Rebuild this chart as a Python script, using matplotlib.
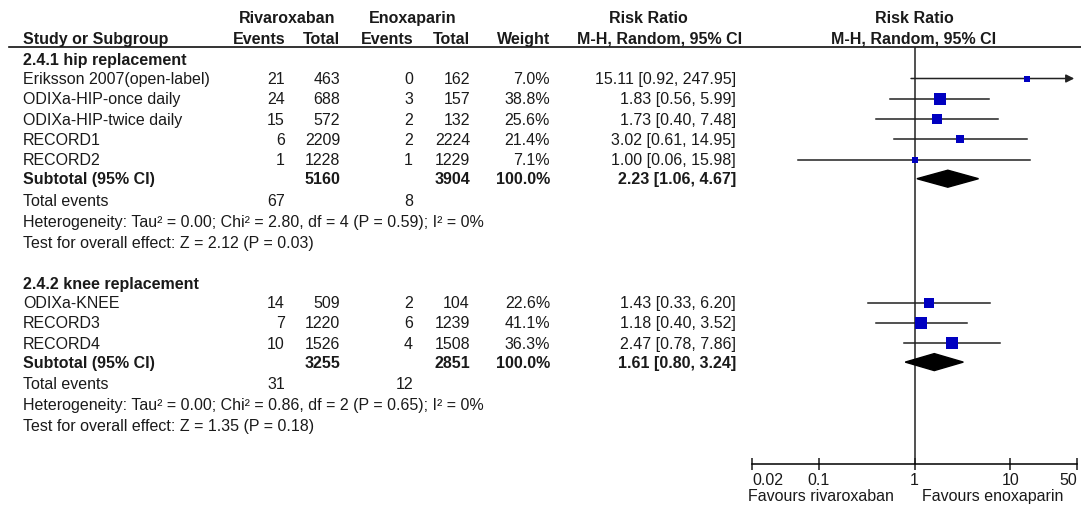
import numpy as np
import matplotlib
matplotlib.use("Agg")
import matplotlib.pyplot as plt
from matplotlib.patches import Polygon

plt.rcParams['font.family'] = ['Liberation Sans', 'DejaVu Sans']

# ---------------- data ----------------
hip_names = ["Eriksson 2007(open-label)", "ODIXa-HIP-once daily", "ODIXa-HIP-twice daily",
             "RECORD1", "RECORD2"]
hip_riva_events = [21, 24, 15, 6, 1]
hip_riva_total = [463, 688, 572, 2209, 1228]
hip_enox_events = [0, 3, 2, 2, 1]
hip_enox_total = [162, 157, 132, 2224, 1229]
hip_weight = [7.0, 38.8, 25.6, 21.4, 7.1]
hip_rr = [15.11, 1.83, 1.73, 3.02, 1.00]
hip_lo = [0.92, 0.56, 0.40, 0.61, 0.06]
hip_hi = [247.95, 5.99, 7.48, 14.95, 15.98]
hip_sub = (2.23, 1.06, 4.67)
hip_het = "Heterogeneity: Tau² = 0.00; Chi² = 2.80, df = 4 (P = 0.59); I² = 0%"
hip_test = "Test for overall effect: Z = 2.12 (P = 0.03)"

knee_names = ["ODIXa-KNEE", "RECORD3", "RECORD4"]
knee_riva_events = [14, 7, 10]
knee_riva_total = [509, 1220, 1526]
knee_enox_events = [2, 6, 4]
knee_enox_total = [104, 1239, 1508]
knee_weight = [22.6, 41.1, 36.3]
knee_rr = [1.43, 1.18, 2.47]
knee_lo = [0.33, 0.40, 0.78]
knee_hi = [6.20, 3.52, 7.86]
knee_sub = (1.61, 0.80, 3.24)
knee_het = "Heterogeneity: Tau² = 0.00; Chi² = 0.86, df = 2 (P = 0.65); I² = 0%"
knee_test = "Test for overall effect: Z = 1.35 (P = 0.18)"

ticks = [0.02, 0.1, 1, 10, 50]
tick_labels = ["0.02", "0.1", "1", "10", "50"]

# ---------------- layout (pixels) ----------------
W, H = 1081, 506
FS = 11.5
TXT = '#1a1a1a'
x_left = 23
x_re, x_rt, x_ee, x_et, x_w, x_ci = 285, 340, 413, 470, 550, 736
ax_x0, ax_x1, ax_y = 752, 1077, 465
rule_y = 48
pitch = 20.3

fig = plt.figure(figsize=(W / 100, H / 100), dpi=100)
tab = fig.add_axes([0, 0, 1, 1])
tab.set_xlim(0, W)
tab.set_ylim(H, 0)
tab.axis('off')

fp = fig.add_axes([ax_x0 / W, (H - ax_y) / H, (ax_x1 - ax_x0) / W, (ax_y - rule_y) / H])
fp.set_xscale('log')
fp.set_xlim(0.02, 50)
fp.set_ylim(ax_y, rule_y)
fp.patch.set_alpha(0)
for s in ['top', 'right', 'left']:
    fp.spines[s].set_visible(False)
fp.spines['bottom'].set_linewidth(1.1)
fp.set_yticks([])
fp.set_xticks(ticks)
fp.set_xticklabels(tick_labels)
fp.minorticks_off()
fp.tick_params(axis='x', direction='inout', length=8, width=1.1, labelsize=FS, pad=2, colors=TXT)
lbls = fp.get_xticklabels()
lbls[0].set_ha('left')
lbls[-1].set_ha('right')
fp.axvline(1, color='#222222', lw=1.1)


def t(x, y, s, ha='left', bold=False):
    tab.text(x, y, s, ha=ha, va='center', fontsize=FS, color=TXT,
             fontweight='bold' if bold else 'normal')


# header
t(287, 18, "Rivaroxaban", ha='center', bold=True)
t(413, 18, "Enoxaparin", ha='center', bold=True)
t(648, 18, "Risk Ratio", ha='center', bold=True)
t(914, 18, "Risk Ratio", ha='center', bold=True)
t(x_left, 39, "Study or Subgroup", bold=True)
for x, s in [(x_re, "Events"), (x_rt, "Total"), (x_ee, "Events"), (x_et, "Total"), (x_w, "Weight")]:
    t(x, 39, s, ha='right', bold=True)
t(660, 39, "M-H, Random, 95% CI", ha='center', bold=True)
t(914, 39, "M-H, Random, 95% CI", ha='center', bold=True)
tab.plot([9, W], [rule_y, rule_y], color='#111111', lw=1.2)


def block(y_sec, title, names, re, rt, ee, et, w, rr, lo, hi, sub, het, test):
    t(x_left, y_sec, title, bold=True)
    ys = [y_sec + 19.5 + i * pitch for i in range(len(names))]
    for i, y in enumerate(ys):
        t(x_left, y, names[i])
        t(x_re, y, str(re[i]), ha='right')
        t(x_rt, y, str(rt[i]), ha='right')
        t(x_ee, y, str(ee[i]), ha='right')
        t(x_et, y, str(et[i]), ha='right')
        t(x_w, y, f"{w[i]:.1f}%", ha='right')
        t(x_ci, y, f"{rr[i]:.2f} [{lo[i]:.2f}, {hi[i]:.2f}]", ha='right')
        if hi[i] > 50:
            fp.annotate('', xy=(50, y), xytext=(lo[i], y), annotation_clip=False,
                        arrowprops=dict(arrowstyle='-|>', color='#222222', lw=1.1,
                                        mutation_scale=12, shrinkA=0, shrinkB=-2))
        else:
            fp.plot([lo[i], hi[i]], [y, y], color='#222222', lw=1.1, clip_on=False)
        side = 1.93 * np.sqrt(w[i]) * 0.72
        fp.plot([rr[i]], [y], marker='s', ms=side, color='#0000c0', mec='#0000c0',
                mew=0, clip_on=False, zorder=5)
    ysub = ys[-1] + 19
    t(x_left, ysub, "Subtotal (95% CI)", bold=True)
    t(x_rt, ysub, str(sum(rt)), ha='right', bold=True)
    t(x_et, ysub, str(sum(et)), ha='right', bold=True)
    t(x_w, ysub, "100.0%", ha='right', bold=True)
    t(x_ci, ysub, f"{sub[0]:.2f} [{sub[1]:.2f}, {sub[2]:.2f}]", ha='right', bold=True)
    hh = 8.5
    fp.add_patch(Polygon([(sub[1], ysub), (sub[0], ysub - hh), (sub[2], ysub), (sub[0], ysub + hh)],
                         closed=True, color='black', zorder=5))
    yt = ysub + 21.5
    t(x_left, yt, "Total events")
    t(x_re, yt, str(sum(re)), ha='right')
    t(x_ee, yt, str(sum(ee)), ha='right')
    t(x_left, yt + 21, het)
    t(x_left, yt + 42, test)


block(60, "2.4.1 hip replacement", hip_names, hip_riva_events, hip_riva_total, hip_enox_events,
      hip_enox_total, hip_weight, hip_rr, hip_lo, hip_hi, hip_sub, hip_het, hip_test)
block(284, "2.4.2 knee replacement", knee_names, knee_riva_events, knee_riva_total, knee_enox_events,
      knee_enox_total, knee_weight, knee_rr, knee_lo, knee_hi, knee_sub, knee_het, knee_test)

t(894, 497, "Favours rivaroxaban", ha='right')
t(922, 497, "Favours enoxaparin", ha='left')

fig.savefig("out.png", dpi=100)
